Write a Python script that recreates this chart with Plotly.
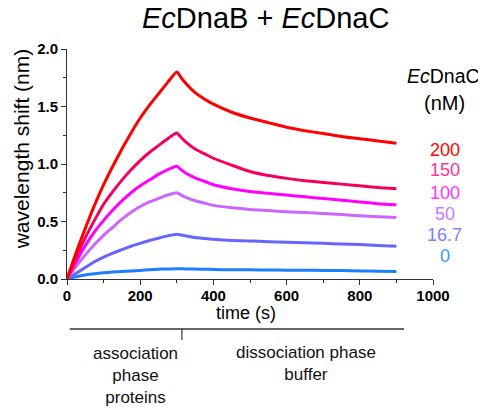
import plotly.graph_objects as go

# time points (s)
time_s = [0, 25, 50, 75, 100, 125, 150, 175, 200, 225, 250, 275, 300, 312, 325, 350, 375, 400,
          450, 500, 550, 600, 650, 700, 750, 800, 850, 900]

# wavelength shift (nm) per EcDnaC concentration
shift_200 = [0, 0.23, 0.44, 0.64, 0.82, 0.98, 1.13, 1.27, 1.40, 1.51, 1.61, 1.71, 1.80, 1.75, 1.70, 1.62, 1.565, 1.52,
             1.45, 1.40, 1.36, 1.32, 1.29, 1.265, 1.24, 1.22, 1.20, 1.18]
shift_150 = [0, 0.19, 0.36, 0.51, 0.65, 0.76, 0.86, 0.95, 1.03, 1.10, 1.16, 1.22, 1.27, 1.23, 1.19, 1.13, 1.09, 1.05,
             0.99, 0.935, 0.90, 0.875, 0.855, 0.84, 0.825, 0.81, 0.795, 0.785]
shift_100 = [0, 0.15, 0.29, 0.41, 0.51, 0.60, 0.68, 0.75, 0.81, 0.86, 0.91, 0.95, 0.98, 0.95, 0.92, 0.88, 0.85, 0.82,
             0.785, 0.76, 0.745, 0.73, 0.715, 0.70, 0.685, 0.67, 0.655, 0.645]
shift_50 = [0, 0.11, 0.21, 0.30, 0.38, 0.45, 0.52, 0.58, 0.63, 0.67, 0.70, 0.73, 0.75, 0.73, 0.71, 0.68, 0.66, 0.64,
            0.62, 0.605, 0.595, 0.585, 0.578, 0.57, 0.56, 0.55, 0.542, 0.535]
shift_16_7 = [0, 0.05, 0.10, 0.15, 0.19, 0.225, 0.255, 0.285, 0.31, 0.335, 0.355, 0.375, 0.39, 0.383, 0.375, 0.36, 0.352,
              0.345, 0.335, 0.33, 0.325, 0.32, 0.315, 0.31, 0.305, 0.30, 0.292, 0.285]
shift_0 = [0, 0.02, 0.035, 0.045, 0.055, 0.06, 0.065, 0.07, 0.075, 0.08, 0.085, 0.088, 0.09, 0.089, 0.088, 0.086, 0.085,
           0.083, 0.08, 0.08, 0.078, 0.077, 0.076, 0.075, 0.073, 0.07, 0.068, 0.065]

conc_labels = ["200", "150", "100", "50", "16.7", "0"]
series = [shift_200, shift_150, shift_100, shift_50, shift_16_7, shift_0]
line_colors = ["#FF0000", "#F5005F", "#FF00FF", "#CC66FF", "#6666FF", "#1A80FF"]
label_colors = ["#FF0000", "#FF3399", "#FF33FF", "#CC77FF", "#8080FF", "#3399FF"]

FONT = "Liberation Sans, Arial, Helvetica, sans-serif"
OFF = 8  # page body margin
W, H = 486 - OFF, 410 - OFF
ML = 66.7 - OFF
MT = 49 - OFF
MR = W - (433 - OFF)
MB = H - (279 - OFF)
PW, PH = W - ML - MR, H - MT - MB


def px(x):
    # window pixel x -> paper coordinate
    return (x - OFF - ML) / PW


def py(y):
    # window pixel y -> paper coordinate
    return (H - MB - (y - OFF)) / PH


fig = go.Figure()
for lab, ys, col in reversed(list(zip(conc_labels, series, line_colors))):
    fig.add_trace(go.Scatter(x=time_s, y=ys, mode="lines", name=lab,
                             line=dict(color=col, width=3, shape="spline", smoothing=0.6),
                             showlegend=False))

annotations = []
annotations.append(dict(text="<i>Ec</i>DnaB + <i>Ec</i>DnaC", x=px(265.5), y=py(18), xref="paper", yref="paper",
                        showarrow=False, font=dict(family=FONT, size=29, color="#000"), xanchor="center", yanchor="middle"))
annotations.append(dict(text="wavelength shift (nm)", x=px(21), y=py(149), xref="paper", yref="paper",
                        showarrow=False, textangle=-90, font=dict(family=FONT, size=21, color="#000"),
                        xanchor="center", yanchor="middle"))
annotations.append(dict(text="time (s)", x=px(246), y=py(313), xref="paper", yref="paper",
                        showarrow=False, font=dict(family=FONT, size=18, color="#000"),
                        xanchor="center", yanchor="middle"))
annotations.append(dict(text="<i>Ec</i>DnaC", x=px(444), y=py(76), xref="paper", yref="paper",
                        showarrow=False, font=dict(family=FONT, size=19.5, color="#000"), xanchor="center", yanchor="middle"))
annotations.append(dict(text="(nM)", x=px(445), y=py(103), xref="paper", yref="paper",
                        showarrow=False, font=dict(family=FONT, size=20, color="#000"), xanchor="center", yanchor="middle"))
label_y = [150, 170, 192.5, 214, 235, 256]
for lab, col, yy in zip(conc_labels, label_colors, label_y):
    annotations.append(dict(text=lab, x=px(445), y=py(yy), xref="paper", yref="paper",
                            showarrow=False, font=dict(family=FONT, size=18, color=col),
                            xanchor="center", yanchor="middle"))
annotations.append(dict(text="association<br>phase<br>proteins", x=px(135.5), y=py(375), xref="paper", yref="paper",
                        showarrow=False, font=dict(family=FONT, size=17, color="#111"), align="center",
                        xanchor="center", yanchor="middle"))
annotations.append(dict(text="dissociation phase<br>buffer", x=px(305.5), y=py(364), xref="paper", yref="paper",
                        showarrow=False, font=dict(family=FONT, size=17, color="#111"), align="center",
                        xanchor="center", yanchor="middle"))

shapes = [
    dict(type="line", xref="paper", yref="paper", x0=px(69.5), x1=px(404), y0=py(329), y1=py(329),
         line=dict(color="#333", width=1.5)),
    dict(type="line", xref="paper", yref="paper", x0=px(181.7), x1=px(181.7), y0=py(329), y1=py(340),
         line=dict(color="#333", width=1.2)),
]

axis_common = dict(showgrid=False, zeroline=False, showline=True, linecolor="#333", linewidth=1,
                   ticks="outside", ticklen=5, tickcolor="#333", tickwidth=1,
                   tickfont=dict(family=FONT, size=15, color="#000", weight="bold"))

fig.update_layout(
    width=W, height=H,
    margin=dict(l=ML, r=MR, t=MT, b=MB, pad=0),
    paper_bgcolor="white", plot_bgcolor="white",
    xaxis=dict(range=[0, 1000], tickvals=[0, 200, 400, 600, 800, 1000], ticklabelstandoff=-2,
               minor=dict(tickvals=[100, 300, 500, 700, 900], ticks="outside", ticklen=3, tickcolor="#333"),
               **axis_common),
    yaxis=dict(range=[0, 2.0], tickvals=[0, 0.5, 1.0, 1.5, 2.0], ticktext=["0.0", "0.5", "1.0", "1.5", "2.0"],
               minor=dict(tickvals=[0.25, 0.75, 1.25, 1.75], ticks="outside", ticklen=3, tickcolor="#333"),
               **axis_common),
    annotations=annotations,
    shapes=shapes,
)

fig.write_html("out.html")
